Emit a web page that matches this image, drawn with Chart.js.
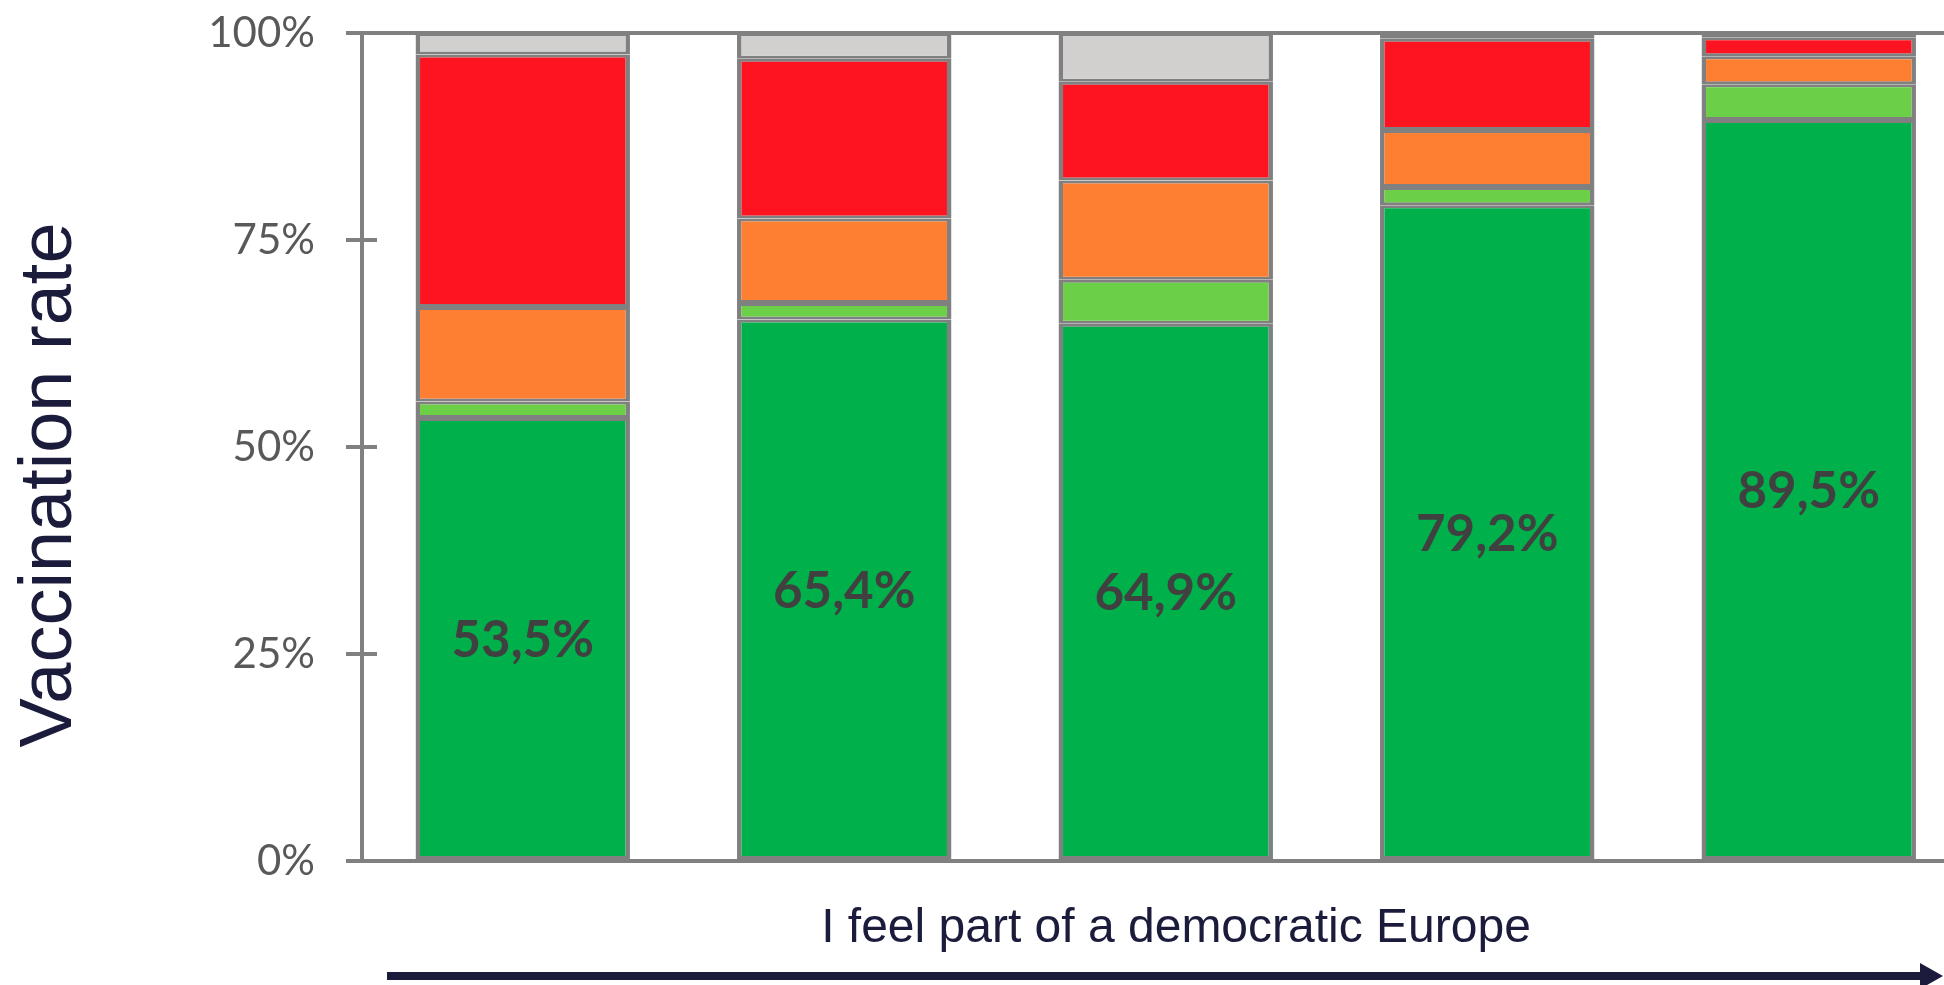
<!DOCTYPE html>
<html>
<head>
<meta charset="utf-8">
<script src="https://cdn.jsdelivr.net/npm/chart.js@4.4.1/dist/chart.umd.min.js"></script>
<style>
  html, body { margin: 0; padding: 0; background: #fff; overflow: hidden; }
  #rate-chart { display: block; }
</style>
</head>
<body>
<canvas id="rate-chart" width="1975" height="985"></canvas>
<script>
// agreement levels, from "not at all" to "completely"
const levels = ['1', '2', '3', '4', '5'];

// shares of each answer per level, in percent (bottom to top of the stack)
const vaccinated = [53.5, 65.4, 64.9, 79.2, 89.5];
const willing = [2.0, 2.0, 5.3, 2.2, 4.3];
const undecided = [11.4, 10.2, 12.0, 6.9, 3.4];
const refusing = [30.5, 19.3, 11.9, 11.0, 2.3];
const noAnswer = [2.6, 3.1, 5.9, 0.7, 0.5];

const yTicks = [0, 25, 50, 75, 100];

const axisGray = '#808080';
const navy = '#1b1b3b';

const segment = (label, data, color) => ({
    label,
    data,
    backgroundColor: color,
    borderColor: axisGray,
    borderWidth: { top: 3, bottom: 3, left: 4.5, right: 4.5 },
    borderSkipped: false,
});

// ticks that cross the axis, the value labels and the side texts
const overlay = {
    id: 'overlay',
    afterDraw(chart) {
        const { ctx, scales } = chart;
        const y = scales.y;
        ctx.save();

        // y ticks, reaching both sides of the axis line
        ctx.strokeStyle = axisGray;
        ctx.lineWidth = 4;
        yTicks.forEach(v => {
            const py = y.getPixelForValue(v);
            ctx.beginPath();
            ctx.moveTo(y.right - 16, py);
            ctx.lineTo(y.right + 15, py);
            ctx.stroke();
        });

        // value labels centred in the bottom segment
        ctx.fillStyle = '#404040';
        ctx.font = 'bold 51px Lato';
        ctx.textAlign = 'center';
        ctx.textBaseline = 'middle';
        chart.getDatasetMeta(0).data.forEach((bar, i) => {
            const text = vaccinated[i].toFixed(1).replace('.', ',') + '%';
            ctx.fillText(text, bar.x, (bar.y + bar.base) / 2 + 2);
        });

        // axis titles
        ctx.fillStyle = navy;
        ctx.textBaseline = 'alphabetic';
        ctx.font = '48px "Liberation Sans", Arial, sans-serif';
        ctx.fillText('I feel part of a democratic Europe', 1176, 942);

        ctx.save();
        ctx.translate(71, 485);
        ctx.rotate(-Math.PI / 2);
        ctx.font = '74px "Liberation Sans", Arial, sans-serif';
        ctx.fillText('Vaccination rate', 0, 0);
        ctx.restore();

        // direction arrow under the axis title
        ctx.strokeStyle = navy;
        ctx.lineWidth = 8;
        ctx.beginPath();
        ctx.moveTo(387, 976);
        ctx.lineTo(1922, 976);
        ctx.stroke();
        ctx.fillStyle = navy;
        ctx.beginPath();
        ctx.moveTo(1920, 963);
        ctx.lineTo(1943, 976);
        ctx.lineTo(1920, 989);
        ctx.closePath();
        ctx.fill();

        ctx.restore();
    },
};

const ctx = document.getElementById('rate-chart').getContext('2d');
const rateChart = new Chart(ctx, {
    type: 'bar',
    data: {
        labels: levels,
        datasets: [
            segment('Vaccinated', vaccinated, '#00b04a'),
            segment('Willing', willing, '#6bd048'),
            segment('Undecided', undecided, '#fe7f32'),
            segment('Refusing', refusing, '#fe1420'),
            segment('No answer', noAnswer, '#d1d0ce'),
        ],
    },
    options: {
        responsive: false,
        animation: false,
        layout: { padding: { top: 33, right: 5.5, left: 0, bottom: 0 } },
        datasets: {
            bar: { categoryPercentage: 1, barPercentage: 0.667 },
        },
        plugins: {
            legend: { display: false },
            tooltip: { enabled: false },
        },
        scales: {
            x: {
                stacked: true,
                ticks: { display: false },
                grid: { display: false },
                border: { color: axisGray, width: 4 },
                afterFit: scale => { scale.height = 124; },
            },
            y: {
                stacked: true,
                min: 0,
                max: 100,
                afterBuildTicks: scale => {
                    scale.ticks = yTicks.map(v => ({ value: v }));
                },
                afterFit: scale => { scale.width = 362; },
                ticks: {
                    callback: v => v + '%',
                    color: '#595959',
                    font: { family: 'Lato', size: 42 },
                    padding: 0,
                },
                grid: {
                    color: c => (c.tick && c.tick.value === 100 ? axisGray : 'rgba(0,0,0,0)'),
                    tickColor: 'rgba(0,0,0,0)',
                    lineWidth: 4,
                    tickLength: 47,
                },
                border: { color: axisGray, width: 4 },
            },
        },
    },
    plugins: [overlay],
});
</script>
</body>
</html>
